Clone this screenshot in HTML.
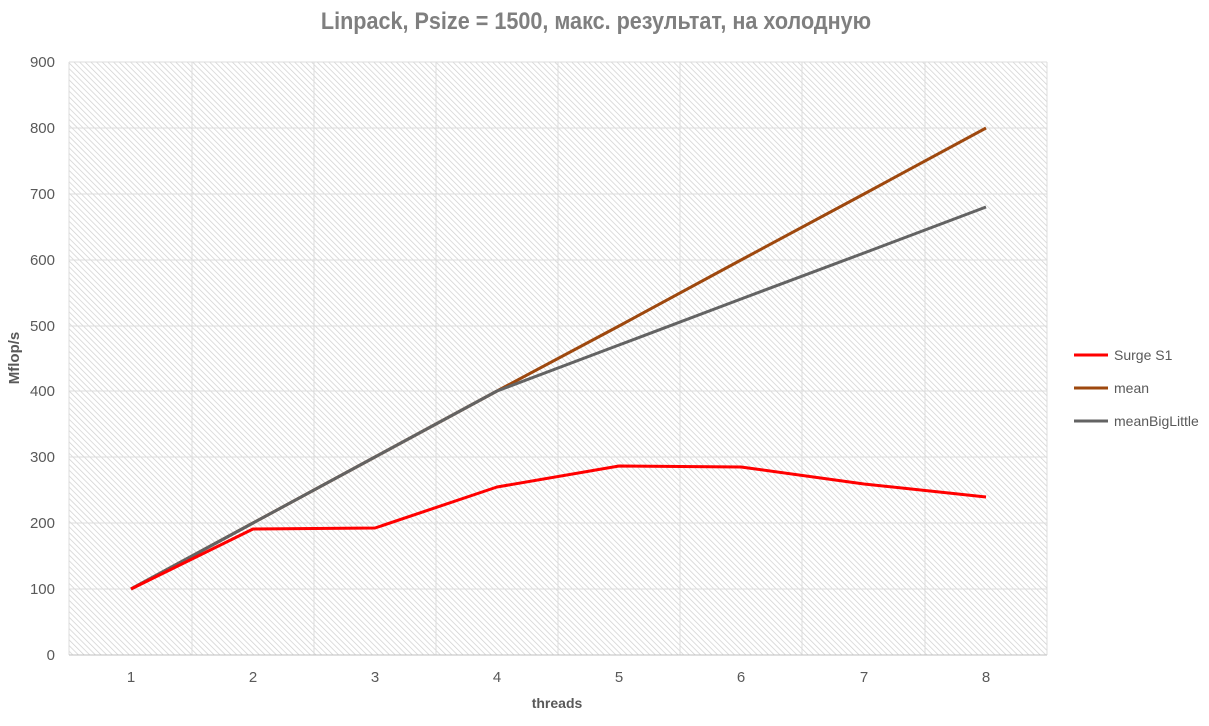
<!DOCTYPE html>
<html><head><meta charset="utf-8"><style>
body{margin:0;background:#fff;}
svg text{font-family:"Liberation Sans","DejaVu Sans",sans-serif;}
</style></head><body>
<svg width="1209" height="721" viewBox="0 0 1209 721" xmlns="http://www.w3.org/2000/svg">
<defs>
<pattern id="h" width="4" height="4" patternUnits="userSpaceOnUse" patternTransform="rotate(-45)">
<rect width="4" height="4" fill="#fff"/>
<line x1="0" y1="0" x2="0" y2="4" stroke="#cfcfcf" stroke-width="1.4"/>
</pattern>
</defs>
<rect width="1209" height="721" fill="#fff"/>
<text x="596" y="29" text-anchor="middle" font-size="24" font-weight="bold" fill="#7f7f7f" transform="translate(596 0) scale(0.9 1) translate(-596 0)">Linpack, Psize = 1500, макс. результат, на холодную</text>
<rect x="69" y="62" width="978" height="593" fill="url(#h)"/>
<g stroke="#dcdcdc" stroke-width="1">
<line x1="69" y1="62" x2="1047" y2="62"/><line x1="69" y1="128" x2="1047" y2="128"/><line x1="69" y1="194" x2="1047" y2="194"/><line x1="69" y1="260" x2="1047" y2="260"/><line x1="69" y1="326" x2="1047" y2="326"/><line x1="69" y1="391" x2="1047" y2="391"/><line x1="69" y1="457" x2="1047" y2="457"/><line x1="69" y1="523" x2="1047" y2="523"/><line x1="69" y1="589" x2="1047" y2="589"/>
<line x1="69" y1="62" x2="69" y2="655"/><line x1="192" y1="62" x2="192" y2="655"/><line x1="314" y1="62" x2="314" y2="655"/><line x1="436" y1="62" x2="436" y2="655"/><line x1="558" y1="62" x2="558" y2="655"/><line x1="680" y1="62" x2="680" y2="655"/><line x1="802" y1="62" x2="802" y2="655"/><line x1="925" y1="62" x2="925" y2="655"/><line x1="1047" y1="62" x2="1047" y2="655"/>
</g>
<line x1="69" y1="655" x2="1047" y2="655" stroke="#bfbfbf"/>
<g font-size="15" fill="#595959" text-anchor="end">
<text x="55" y="67">900</text><text x="55" y="133">800</text><text x="55" y="199">700</text><text x="55" y="265">600</text><text x="55" y="331">500</text><text x="55" y="396">400</text><text x="55" y="462">300</text><text x="55" y="528">200</text><text x="55" y="594">100</text><text x="55" y="660">0</text>
</g>
<g font-size="15" fill="#595959" text-anchor="middle">
<text x="131" y="682">1</text><text x="253" y="682">2</text><text x="375" y="682">3</text><text x="497" y="682">4</text><text x="619" y="682">5</text><text x="741" y="682">6</text><text x="864" y="682">7</text><text x="986" y="682">8</text>
</g>
<text x="557" y="708" font-size="14" font-weight="bold" fill="#595959" text-anchor="middle">threads</text>
<text x="19" y="358" font-size="15" font-weight="bold" fill="#595959" text-anchor="middle" transform="rotate(-90 19 358)">Mflop/s</text>
<g fill="none" stroke-width="3" stroke-linejoin="round">
<polyline stroke="#9e480e" points="131,589 253,523 375,457 497,391 619,326 741,260 864,194 986,128"/>
<polyline stroke="#636363" points="131,589 253,523 375,457 497,391 619,345 741,299 864,253 986,207"/>
<polyline stroke="#ff0000" points="131,589 253,529 375,528 497,487 619,466 741,467 864,484 986,497"/>
</g>
<g stroke-width="3">
<line x1="1074" y1="355" x2="1108" y2="355" stroke="#ff0000"/>
<line x1="1074" y1="388" x2="1108" y2="388" stroke="#9e480e"/>
<line x1="1074" y1="421" x2="1108" y2="421" stroke="#636363"/>
</g>
<g font-size="14" fill="#595959">
<text x="1114" y="360">Surge S1</text><text x="1114" y="393">mean</text><text x="1114" y="426">meanBigLittle</text>
</g>
</svg>
</body></html>
